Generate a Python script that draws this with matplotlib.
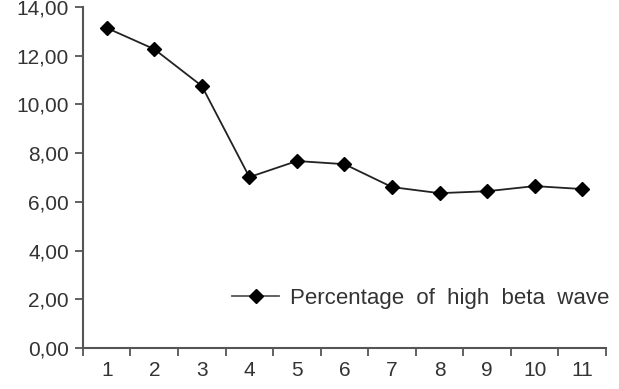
import numpy as np
import matplotlib.pyplot as plt

sessions = [1, 2, 3, 4, 5, 6, 7, 8, 9, 10, 11]
high_beta = [13.14, 12.27, 10.76, 7.02, 7.68, 7.55, 6.61, 6.36, 6.44, 6.65, 6.53]
y_ticks = [0, 2, 4, 6, 8, 10, 12, 14]
y_labels = ['0,00', '2,00', '4,00', '6,00', '8,00', '10,00', '12,00', '14,00']

plt.rcParams['font.family'] = ['Liberation Sans', 'DejaVu Sans']

fig = plt.figure(figsize=(6.19, 3.89), dpi=100)
ax = fig.add_axes([0.134, 0.105, 0.845, 0.877])

ax.plot(sessions, high_beta, color='#222222', lw=1.3, marker='D', ms=7,
        mfc='black', mec='black', label='Percentage  of  high  beta  wave')

ax.set_xlim(0.5, 11.5)
ax.set_ylim(0, 14)
ax.set_yticks(y_ticks)
ax.set_yticklabels(y_labels)
ax.set_xticks(sessions)
ax.set_xticks(np.arange(0.5, 12, 1), minor=True)
ax.tick_params(axis='x', which='major', length=0, pad=9, labelsize=15, labelcolor='#333333')
ax.tick_params(axis='x', which='minor', length=6, width=1.3, color='#555555', direction='out')
ax.tick_params(axis='y', length=6, width=1.3, color='#555555', labelsize=15, labelcolor='#333333', pad=4)

for s in ['top', 'right']:
    ax.spines[s].set_visible(False)
for s in ['left', 'bottom']:
    ax.spines[s].set_color('#555555')
    ax.spines[s].set_linewidth(1.5)

leg = ax.legend(loc='center right', bbox_to_anchor=(1.045, 0.147), frameon=False,
                fontsize=16, handlelength=2.1, handletextpad=0.5, labelcolor='#333333')
leg.get_lines()[0].set_color('#555555')
leg.get_lines()[0].set_markerfacecolor('black')
leg.get_lines()[0].set_markeredgecolor('black')

fig.savefig('out.png', dpi=100)
